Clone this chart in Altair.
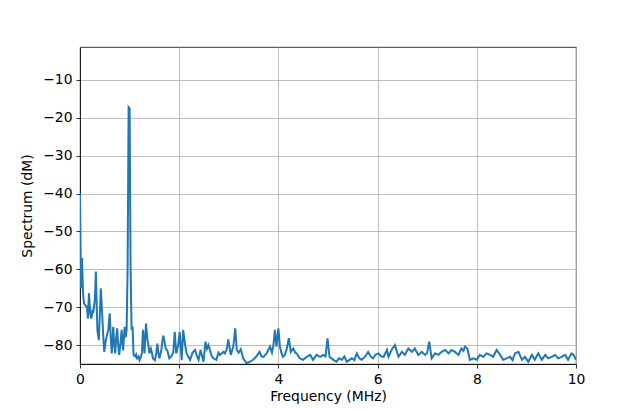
import altair as alt
import pandas as pd

freq = [0.00, 0.02, 0.04, 0.06, 0.08, 0.11, 0.14, 0.16, 0.18, 0.21, 0.23, 0.25, 0.27, 0.30, 0.32,
        0.35, 0.38, 0.40, 0.42, 0.45, 0.47, 0.49, 0.52, 0.55, 0.57, 0.60, 0.62, 0.64, 0.67, 0.69,
        0.71, 0.73, 0.75, 0.77, 0.79, 0.82, 0.84, 0.86, 0.87, 0.90, 0.92, 0.94, 0.96, 0.98, 1.00,
        1.02, 1.04, 1.06, 1.08, 1.11, 1.13, 1.15, 1.18, 1.20, 1.23, 1.25, 1.27, 1.29, 1.30, 1.33,
        1.36, 1.38, 1.40, 1.43, 1.45, 1.47, 1.51, 1.54, 1.56, 1.58, 1.60, 1.64, 1.66, 1.68, 1.71,
        1.73, 1.76, 1.80, 1.84, 1.88, 1.91, 1.94, 1.98, 2.01, 2.05, 2.08, 2.12, 2.15, 2.22, 2.27,
        2.32, 2.36, 2.39, 2.43, 2.49, 2.53, 2.56, 2.59, 2.62, 2.66, 2.69, 2.75, 2.79, 2.82, 2.89,
        2.92, 2.96, 2.99, 3.04, 3.09, 3.13, 3.16, 3.20, 3.24, 3.29, 3.36, 3.43, 3.49, 3.55, 3.62,
        3.66, 3.70, 3.76, 3.83, 3.87, 3.90, 3.93, 3.96, 4.00, 4.03, 4.06, 4.09, 4.13, 4.17, 4.21,
        4.25, 4.30, 4.34, 4.37, 4.43, 4.50, 4.57, 4.64, 4.70, 4.77, 4.84, 4.90, 4.95, 4.99, 5.03,
        5.11, 5.17, 5.22, 5.28, 5.33, 5.38, 5.48, 5.53, 5.58, 5.63, 5.68, 5.75, 5.81, 5.86, 5.91,
        5.96, 6.02, 6.07, 6.12, 6.19, 6.22, 6.28, 6.35, 6.42, 6.49, 6.55, 6.62, 6.69, 6.75, 6.82,
        6.89, 6.96, 7.00, 7.04, 7.09, 7.16, 7.22, 7.29, 7.36, 7.43, 7.49, 7.56, 7.63, 7.69, 7.73,
        7.76, 7.81, 7.86, 7.93, 8.00, 8.06, 8.13, 8.20, 8.27, 8.33, 8.40, 8.47, 8.53, 8.60, 8.67,
        8.72, 8.77, 8.84, 8.91, 8.97, 9.04, 9.11, 9.17, 9.24, 9.31, 9.38, 9.44, 9.51, 9.58, 9.64,
        9.71, 9.78, 9.84, 9.91, 9.95, 10.00]

spectrum = [-40, -65, -57, -66, -69, -69.5, -70, -73, -66.3, -72, -73, -71, -71.2, -68, -60.6,
            -76, -78.7, -72, -65, -72.5, -78, -81.8, -78.7, -77, -76, -71.6, -78, -82.2, -75.2, -80,
            -82.2, -78, -75.6, -80, -82.6, -79, -76, -80, -81.4, -75.2, -78, -76, -60, -17.2, -17.5,
            -60, -76, -75.2, -82.6, -83, -82.5, -83.5, -83, -84, -83, -82, -76, -80, -82.2, -74.3,
            -78.7, -80, -82.2, -81, -82, -83.5, -84, -82, -79.6, -82, -83.5, -81.4, -79, -77.5, -79.6,
            -81, -81.4, -83.5, -83, -82, -76.5, -82.2, -80, -76.5, -84, -76, -80, -82.2, -83.9, -82,
            -81.3, -83, -83.9, -81.3, -84.4, -79.1, -81, -80, -81.3, -83, -83.5, -83.9, -82, -82.6, -81.8,
            -82.2, -81, -78.5, -82.6, -80.4, -75.6, -81.3, -82, -81.1, -83.5, -84.8, -84.4, -83.9, -83.1, -81.8,
            -83, -83.1, -82.2, -80.4, -82, -80, -76, -80.4, -75.6, -80.4, -82, -83.1, -82.6, -80.9, -78.2,
            -81.8, -80.9, -82, -82.2, -83.5, -83.9, -83.1, -82.6, -83.9, -82.6, -83.1, -82.6, -83, -78.2, -83.1,
            -83.9, -84.4, -83.5, -83.9, -83, -84.4, -83.5, -84, -82.2, -83.5, -83.9, -83, -81.8, -83, -83.5,
            -82.5, -82.2, -83, -83.1, -81.3, -83.1, -81.3, -80, -83.1, -81.8, -82.6, -80.9, -81.8, -80.9, -82.6,
            -81.8, -82.6, -82, -79.1, -83.5, -82.2, -82.6, -81.8, -81.3, -82.2, -81.3, -81.8, -82.6, -80.9, -81.5,
            -80.4, -80.9, -83.9, -83.5, -83.9, -82.6, -83.1, -82.2, -82.6, -83.1, -81.3, -82.6, -83.9, -83.5, -83.1,
            -84, -82.2, -81.8, -83.9, -83.1, -84.4, -82.6, -83.9, -82.2, -83.9, -82.6, -83.5, -83.1, -82.6, -83.5,
            -83.1, -82.6, -83.9, -82.2, -82.6, -83.9]

x_ticks = [0, 2, 4, 6, 8, 10]
y_ticks = [-80, -70, -60, -50, -40, -30, -20, -10]

df = pd.DataFrame({"freq": freq, "db": spectrum})

font = "DejaVu Sans"
minus = "replace(datum.label, '-', '\u2212')"

chart = alt.Chart(df).mark_line(color="#1f77b4", strokeWidth=2, clip=True).encode(
    x=alt.X("freq:Q",
            scale=alt.Scale(domain=[0, 10], nice=False, zero=False),
            axis=alt.Axis(title="Frequency (MHz)", values=x_ticks, grid=True, gridColor="#b0b0b0",
                          gridWidth=0.8, domainColor="black", domainWidth=0.8, tickColor="black",
                          tickSize=4, tickWidth=0.8, labelPadding=4, labelFont=font, labelFontSize=13.9,
                          labelColor="black", titleFont=font, titleFontSize=13.9, titleFontWeight="normal",
                          titleColor="black", titlePadding=4, labelFlush=False, labelExpr=minus)),
    y=alt.Y("db:Q",
            scale=alt.Scale(domain=[-85, -1.3], nice=False, zero=False),
            axis=alt.Axis(title="Spectrum (dM)", values=y_ticks, grid=True, gridColor="#b0b0b0",
                          gridWidth=0.8, domainColor="black", domainWidth=0.8, tickColor="black",
                          tickSize=4, tickWidth=0.8, labelPadding=4, labelFont=font, labelFontSize=13.9,
                          labelColor="black", titleFont=font, titleFontSize=13.9, titleFontWeight="normal",
                          titleColor="black", titlePadding=8, labelExpr=minus)),
).properties(
    width=496, height=317,
    autosize=alt.AutoSizeParams(type="none"),
    padding={"left": 72, "top": 39, "right": 20, "bottom": 44},
).configure_view(stroke="black", strokeWidth=0.8)

chart.save("out.html", embed_options={"renderer": "svg", "actions": False})
